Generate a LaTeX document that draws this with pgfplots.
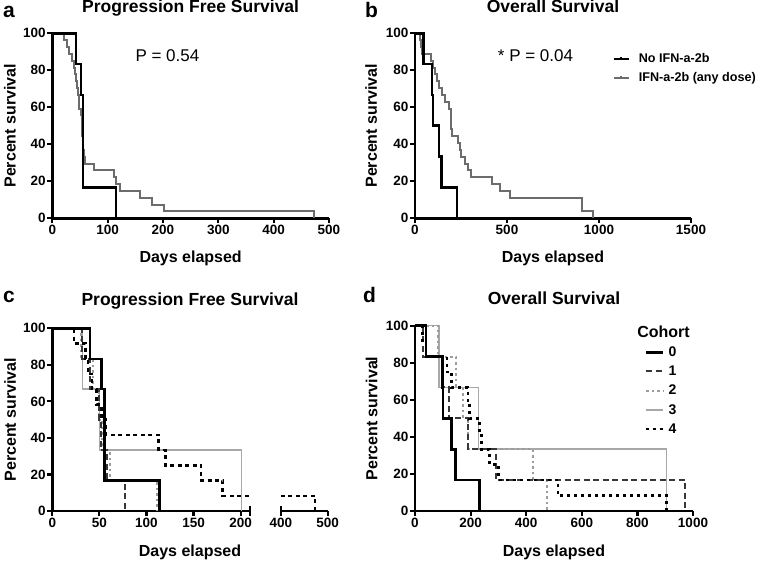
\documentclass[border=0pt]{standalone}
\usepackage{fontspec}
\setmainfont{Liberation Sans}
\usepackage{pgfplots}
\pgfplotsset{compat=1.18}

\definecolor{grayA}{HTML}{6C6C6C}
\definecolor{dkgray}{HTML}{383838}
\definecolor{ltgray}{HTML}{A8A8A8}
\definecolor{dotgray}{HTML}{9C9C9C}

\pgfplotsset{
 km/.style={
  scale only axis,
  axis x line*=bottom, axis y line*=left,
  axis line style={line width=2.6pt, -},
  tick align=outside,
  major tick length=5pt,
  major tick style={line width=2.2pt, black},
  ymin=0, ymax=100, ytick={0,20,...,100},
  xmin=0,
  clip=false,
  tick label style={font=\bfseries\fontsize{13.5}{15}\selectfont},
  xticklabel style={inner sep=1.5pt},
  yticklabel style={inner sep=1.5pt},
  /pgf/number format/assume math mode=true,
  /pgf/number format/set thousands separator={},
  scaled x ticks=false,
  xlabel={Days elapsed}, ylabel={Percent survival},
  every axis title/.style={at={(axis description cs:0.5,1)}, anchor=base, yshift=21pt, font=\bfseries\fontsize{17.5}{19}\selectfont},
  every axis x label/.style={at={(axis description cs:0.5,0)}, anchor=base, yshift=-44pt, font=\bfseries\fontsize{16}{18}\selectfont},
  every axis y label/.style={at={(axis description cs:-0.153,0.5)}, rotate=90, anchor=center, font=\bfseries\fontsize{16}{18}\selectfont},
  legend cell align=left,
 },
}
\tikzset{
 pv/.style={font=\fontsize{17}{19}\selectfont, anchor=base, inner sep=0pt},
 letter/.style={font=\bfseries\fontsize{21}{21}\selectfont, anchor=base west, inner sep=0pt},
}

\begin{document}
\begin{tikzpicture}
\useasboundingbox (0,0) rectangle (761pt,562pt);

% ---------------- panel a ----------------
\begin{axis}[km, at={(52.3pt,343.7pt)}, anchor=south west, width=276.7pt, height=185pt,
  xmax=500, xtick={0,100,...,500}, title={Progression Free Survival}]
\addplot[const plot, grayA, line width=2pt] coordinates {
(0,100)(22,96.3)(26,92.6)(30,88.9)(35,85.2)(39,81.5)(41,77.8)(43,74.1)(44.5,70.4)(46,66.7)(47.5,63.0)(49,59.3)(51,55.6)(53,51.9)(54,48.1)(54.5,44.4)(55,40.7)(56,37.0)(56.5,33.3)(59.5,29.6)(74.5,25.9)(111,22.2)(115.5,18.5)(122.5,14.8)(159,11.1)(180,7.4)(201,3.7)(472,0)};
\addplot[const plot, black, line width=2.6pt] coordinates {
(0,100)(43,83.3)(51.5,66.7)(55.5,16.7)(115,0)};
\node[pv] at (axis cs:208,84.9) {P = 0.54};
\end{axis}

% ---------------- panel b ----------------
\begin{axis}[km, at={(415pt,343.7pt)}, anchor=south west, width=276pt, height=185pt,
  xmax=1500, xtick={0,500,1000,1500}, title={Overall Survival},
  every axis y label/.style={at={(axis description cs:-0.159,0.5)}, rotate=90, anchor=center, font=\bfseries\fontsize{16}{18}\selectfont},
  legend style={at={(axis description cs:0.714,0.902)}, anchor=north west, draw=none, fill=none, inner sep=0pt,
    font=\bfseries\fontsize{12.6}{14}\selectfont, row sep=4.5pt, nodes={inner sep=2pt},
    /tikz/every odd column/.append style={column sep=7pt}},
  legend image code/.code={\draw[#1] (0pt,0pt) -- (15pt,0pt); \draw[#1, line width=1.2pt] (7.5pt,0pt) -- (7.5pt,2.2pt);}]
\addlegendimage{black, line width=2.6pt}
\addlegendentry{No IFN-a-2b}
\addlegendimage{grayA, line width=2pt}
\addlegendentry{IFN-a-2b (any dose)}
\addplot[const plot, grayA, line width=2pt, forget plot] coordinates {
(0,100)(27,96.3)(31,92.6)(36,88.9)(85,85.2)(100,81.5)(110,77.8)(118,74.1)(130,70.4)(145,66.7)(163,63.0)(187,59.3)(194,55.6)(196,51.9)(198,48.1)(200,44.4)(236,40.7)(245,37.0)(250,33.3)(272,29.6)(290,25.9)(304,22.2)(417,18.5)(462,14.8)(516,11.1)(906,3.7)(970,0)};
\addplot[const plot, black, line width=2.6pt, forget plot] coordinates {
(0,100)(45,83.3)(92,66.7)(97,50)(130,33.3)(145,16.7)(228,0)};
\node[pv] at (axis cs:655,84.9) {* P = 0.04};
\end{axis}

% ---------------- panel c ----------------
\begin{axis}[km, at={(52.3pt,51pt)}, anchor=south west, width=275.4pt, height=182.7pt,
  xmax=292.4, xtick={0,50,100,150,200,242.8,292.4}, xticklabels={0,50,100,150,200,400,500},
  x axis line style={draw=none},
  title={Progression Free Survival},
  every axis title/.style={at={(axis description cs:0.5,1)}, anchor=base, yshift=23pt, font=\bfseries\fontsize{17.5}{19}\selectfont},
  every axis x label/.style={at={(axis description cs:0.5,0)}, anchor=base, yshift=-46pt, font=\bfseries\fontsize{16}{18}\selectfont}]
\draw[line width=2.6pt] (axis cs:0,0) -- (axis cs:210,0);
\draw[line width=2.2pt] ([yshift=-5pt]axis cs:210,0) -- ([yshift=4.5pt]axis cs:210,0);
\draw[line width=2.6pt] (axis cs:242.8,0) -- (axis cs:292.4,0);
\draw[line width=2.2pt] ([yshift=-5pt]axis cs:242.8,0) -- ([yshift=4.5pt]axis cs:242.8,0);
% cohort 3
\addplot[const plot, ltgray, line width=1.6pt] coordinates {(0,100)(32,66.7)(50,33.3)(201,0)};
% cohort 2
\addplot[const plot, dotgray, line width=2pt, dash pattern=on 2.5pt off 3pt] coordinates {(0,100)(30,83.3)(43,66.7)(50,50)(53,33.3)(61,16.7)(111,0)};
% cohort 1
\addplot[const plot, dkgray, line width=2pt, dash pattern=on 6pt off 3.5pt] coordinates {(0,100)(32,83.3)(40,66.7)(50,50)(52,33.3)(58,16.7)(77,0)};
% cohort 4
\addplot[const plot, black, line width=2.6pt, dash pattern=on 4pt off 3.5pt] coordinates {(0,100)(23,91.7)(35,83.3)(38,75)(42,66.7)(47,58.3)(52,50)(57,41.7)(113,33.3)(120,25)(158,16.7)(181,8.3)(210,8.3)};
\addplot[const plot, black, line width=2.6pt, dash pattern=on 4pt off 3.5pt] coordinates {(242.8,8.3)(279,0)};
% cohort 0
\addplot[const plot, black, line width=2.6pt] coordinates {(0,100)(40,83.3)(52,66.7)(55.5,16.7)(114,0)};
\end{axis}

% ---------------- panel d ----------------
\begin{axis}[km, at={(415pt,51pt)}, anchor=south west, width=278pt, height=185.3pt,
  xmax=1000, xtick={0,200,...,1000}, title={Overall Survival},
  every axis title/.style={at={(axis description cs:0.5,1)}, anchor=base, yshift=21pt, font=\bfseries\fontsize{17.5}{19}\selectfont},
  every axis x label/.style={at={(axis description cs:0.5,0)}, anchor=base, yshift=-46pt, font=\bfseries\fontsize{16}{18}\selectfont},
  every axis y label/.style={at={(axis description cs:-0.156,0.5)}, rotate=90, anchor=center, font=\bfseries\fontsize{16}{18}\selectfont},
  legend style={at={(axis description cs:0.827,0.899)}, anchor=north west, draw=none, fill=none, inner sep=0pt,
    font=\bfseries\fontsize{14}{15}\selectfont, row sep=4pt, nodes={inner sep=2pt},
    /tikz/every odd column/.append style={column sep=2pt}},
  legend image code/.code={\draw[#1] (0pt,0pt) -- (17pt,0pt);}]
\addlegendimage{black, line width=2.6pt}\addlegendentry{0}
\addlegendimage{dkgray, line width=2pt, dash pattern=on 6pt off 3.5pt}\addlegendentry{1}
\addlegendimage{dotgray, line width=2pt, dash pattern=on 2.5pt off 3pt}\addlegendentry{2}
\addlegendimage{ltgray, line width=1.6pt}\addlegendentry{3}
\addlegendimage{black, line width=2.6pt, dash pattern=on 3pt off 4pt}\addlegendentry{4}
% cohort 3
\addplot[const plot, ltgray, line width=1.6pt, forget plot] coordinates {(0,100)(87,66.7)(228,33.3)(905,0)};
% cohort 2
\addplot[const plot, dotgray, line width=2pt, dash pattern=on 2.5pt off 3pt, forget plot] coordinates {(0,100)(84,83.3)(146,66.7)(172,50)(192,33.3)(425,16.7)(474,0)};
% cohort 1
\addplot[const plot, dkgray, line width=2pt, dash pattern=on 6pt off 3.5pt, forget plot] coordinates {(0,100)(30,83.3)(100,66.7)(123,50)(192,33.3)(291,16.7)(971,0)};
% cohort 4
\addplot[const plot, black, line width=2.6pt, dash pattern=on 3pt off 4pt, forget plot] coordinates {(0,100)(28,91.7)(40,83.3)(115,75)(132,66.7)(190,58.3)(196,50)(233,41.7)(240,33.3)(268,25)(300,16.7)(515,8.3)(905,0)};
% cohort 0
\addplot[const plot, black, line width=2.6pt, forget plot] coordinates {(0,100)(40,83.3)(98,66.7)(101,50)(131,33.3)(146,16.7)(231,0)};
\node[font=\bfseries\fontsize{16}{18}\selectfont, anchor=base west, inner sep=0pt] at (axis description cs:0.799,0.934) {Cohort};
\end{axis}

\node[letter] at (3pt,544pt) {a};
\node[letter] at (365pt,544pt) {b};
\node[letter] at (3pt,259pt) {c};
\node[letter] at (363pt,259pt) {d};
\end{tikzpicture}
\end{document}
